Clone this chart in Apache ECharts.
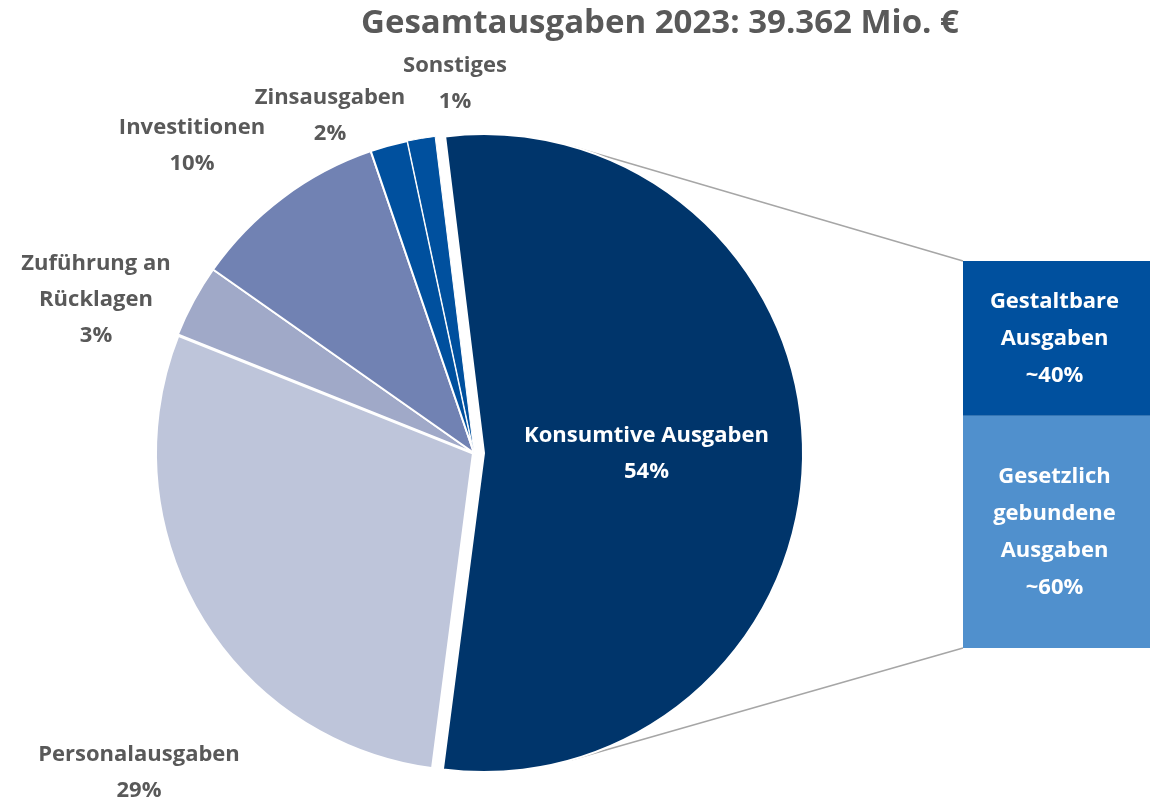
<!DOCTYPE html>
<html>
<head>
<meta charset="utf-8">
<script src="https://cdn.jsdelivr.net/npm/echarts@6/dist/echarts.min.js"></script>
<style>
  html, body { margin: 0; padding: 0; background: #fff; }
  #chart { width: 1150px; height: 803px; }
</style>
</head>
<body>
<div id="chart"></div>
<script>
// pie: share of total spending (%)
const categories = ["Konsumtive Ausgaben", "Personalausgaben", "Zuführung an\nRücklagen", "Investitionen", "Zinsausgaben", "Sonstiges"];
const shares = [54, 29, 3.7, 10, 1.9, 1.4];
const shownPercent = ["54%", "29%", "3%", "10%", "2%", "1%"];
const pieColors = ["#00356b", "#bec5da", "#a0a9c8", "#7182b3", "#00509e", "#00509e"];

// bar: split of consumptive spending
const splitNames = ["Gesetzlich\ngebundene\nAusgaben", "Gestaltbare\nAusgaben"];
const splitValues = [60, 40];
const splitLabels = ["~60%", "~40%"];
const splitColors = ["#5090cd", "#00509e"];

const titleText = "Gesamtausgaben 2023: 39.362 Mio. €";

// layout
const pieCenter = [474, 453];
const pieRadius = 319;
const pieStart = 97;
const explode = 10;
const barGrid = { left: 963, top: 261, width: 190, height: 387 };

// where each label sits (centre of text block)
const labelPos = {
  "Konsumtive Ausgaben": [642, 455],
  "Personalausgaben": [139, 773],
  "Zuführung an\nRücklagen": [96, 300],
  "Investitionen": [192, 146],
  "Zinsausgaben": [330, 116],
  "Sonstiges": [455, 84]
};

const font = "'Open Sans', Lato, sans-serif";
const chart = echarts.init(document.getElementById("chart"));

const option = {
  animation: false,
  title: {
    text: titleText,
    left: 655,
    top: 2,
    textAlign: "center",
    textStyle: { fontFamily: font, fontSize: 33, fontWeight: "bold", color: "#595959" }
  },
  grid: { left: barGrid.left, top: barGrid.top, width: barGrid.width, height: barGrid.height },
  xAxis: { type: "category", data: [""], show: false },
  yAxis: { type: "value", min: 0, max: 100, show: false },
  series: [
    {
      type: "pie",
      z: 5,
      center: pieCenter,
      radius: pieRadius,
      startAngle: pieStart,
      clockwise: true,
      selectedMode: "multiple",
      selectedOffset: explode,
      emphasis: { disabled: true },
      itemStyle: { borderColor: "#fff", borderWidth: 2 },
      label: {
        show: true,
        position: "inside",
        overflow: "none",
        fontFamily: font,
        fontSize: 22,
        fontWeight: "bold",
        color: "#595959",
        lineHeight: 36,
        align: "center",
        formatter: p => p.name + "\n" + shownPercent[p.dataIndex]
      },
      labelLine: { show: false },
      labelLayout: p => {
        const pos = labelPos[categories[p.dataIndex]];
        return { x: pos[0], y: pos[1], align: "center", verticalAlign: "middle" };
      },
      data: categories.map((name, i) => ({
        name: name,
        value: shares[i],
        selected: i === 0,
        itemStyle: {
          color: pieColors[i],
          borderWidth: i === 1 ? 4 : (i === 5 ? 1 : 2)
        },
        label: i === 0 ? { color: "#fff" } : undefined
      }))
    },
    ...splitNames.map((name, i) => ({
      type: "bar",
      name: name,
      stack: "split",
      z: 5,
      barWidth: "100%",
      data: [splitValues[i]],
      itemStyle: { color: splitColors[i] },
      emphasis: { disabled: true },
      label: {
        show: true,
        position: "inside",
        overflow: "none",
        fontFamily: font,
        fontSize: 22,
        fontWeight: "bold",
        color: "#fff",
        lineHeight: 37,
        offset: [-2, 0],
        formatter: () => name + "\n" + splitLabels[i]
      }
    }))
  ]
};
chart.setOption(option);

// connector lines: tangents from the bar corners to the exploded slice's circle
const total = shares.reduce((a, b) => a + b, 0);
const a0 = pieStart * Math.PI / 180;
const a1 = (pieStart - shares[0] / total * 360) * Math.PI / 180;
const aMid = (a0 + a1) / 2;
const ox = pieCenter[0] + explode * Math.cos(aMid);
const oy = pieCenter[1] - explode * Math.sin(aMid);
const barTop = [barGrid.left, chart.convertToPixel({ yAxisIndex: 0 }, 100)];
const barBot = [barGrid.left, chart.convertToPixel({ yAxisIndex: 0 }, 0)];

function tangent(p, upper) {
  const dx = p[0] - ox, dy = p[1] - oy;
  const d = Math.sqrt(dx * dx + dy * dy);
  const base = Math.atan2(dy, dx);
  const t = Math.acos(pieRadius / d);
  const c1 = [ox + pieRadius * Math.cos(base + t), oy + pieRadius * Math.sin(base + t)];
  const c2 = [ox + pieRadius * Math.cos(base - t), oy + pieRadius * Math.sin(base - t)];
  return upper ? (c1[1] < c2[1] ? c1 : c2) : (c1[1] > c2[1] ? c1 : c2);
}
const tTop = tangent(barTop, true);
const tBot = tangent(barBot, false);

chart.setOption({
  graphic: {
    elements: [
      { type: "line", z: 0, shape: { x1: tTop[0], y1: tTop[1], x2: barTop[0], y2: barTop[1] }, style: { stroke: "#a6a6a6", lineWidth: 1.5 } },
      { type: "line", z: 0, shape: { x1: tBot[0], y1: tBot[1], x2: barBot[0], y2: barBot[1] }, style: { stroke: "#a6a6a6", lineWidth: 1.5 } }
    ]
  }
});
</script>
</body>
</html>
